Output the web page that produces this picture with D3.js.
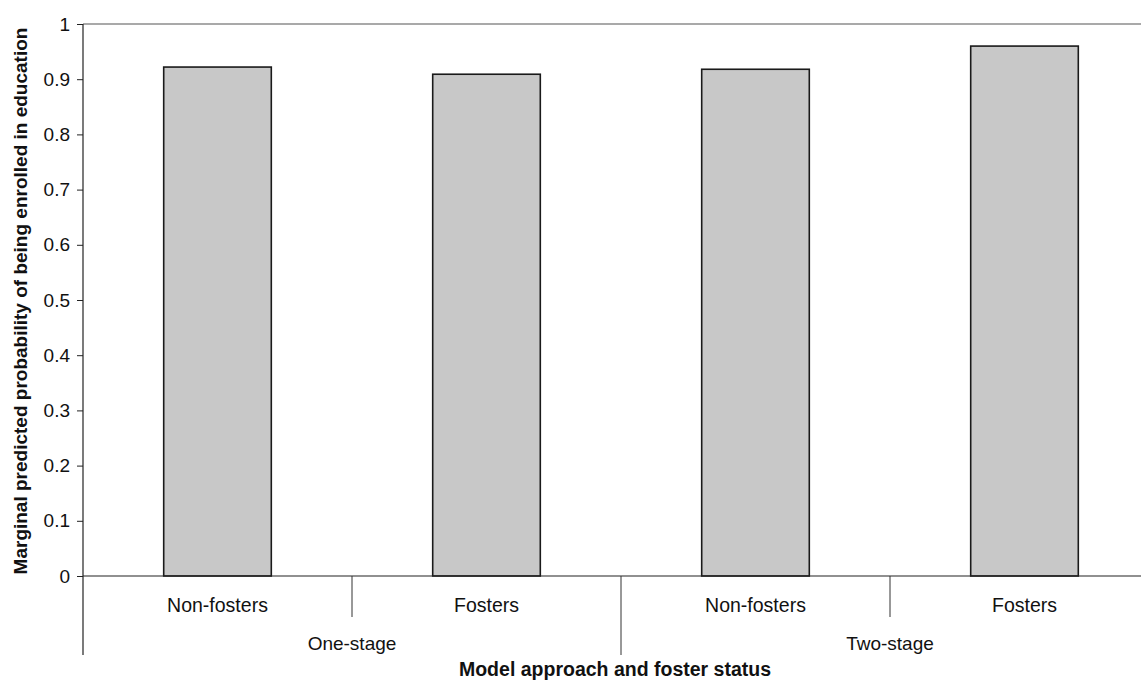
<!DOCTYPE html>
<html>
<head>
<meta charset="utf-8">
<script src="https://cdn.jsdelivr.net/npm/d3@7"></script>
<style>
  html, body { margin: 0; padding: 0; background: #fff; }
  svg { display: block; }
  text { font-family: "Liberation Sans", Arial, sans-serif; fill: #111; }
</style>
</head>
<body>
<svg id="chart" width="1141" height="684"></svg>
<script>
// ---- data ----
const groups = ["One-stage", "Two-stage"];
const categories = ["Non-fosters", "Fosters", "Non-fosters", "Fosters"];
const categoryGroup = ["One-stage", "One-stage", "Two-stage", "Two-stage"];
const values = [0.922, 0.909, 0.918, 0.960];
const yTicks = [0, 0.1, 0.2, 0.3, 0.4, 0.5, 0.6, 0.7, 0.8, 0.9, 1];
const yTickLabels = ["0", "0.1", "0.2", "0.3", "0.4", "0.5", "0.6", "0.7", "0.8", "0.9", "1"];
const yTitle = "Marginal predicted probability of being enrolled in education";
const xTitle = "Model approach and foster status";

(function () {
// ---- layout ----
const svg = d3.select("#chart");
const mLeft = 83, mTop = 24, mBottom = 576;
const step = 269;
const mRight = mLeft + categories.length * step;

const idx = categories.map((d, i) => i);
const x = d3.scaleBand().domain(idx).range([mLeft, mRight]).paddingInner(0.6).paddingOuter(0.3);
const y = d3.scaleLinear().domain([0, 1]).range([mBottom, mTop]);

// bars
svg.append("g").selectAll("rect")
  .data(values)
  .join("rect")
  .attr("x", (d, i) => x(i))
  .attr("y", d => y(d))
  .attr("width", x.bandwidth())
  .attr("height", d => y(0) - y(d))
  .attr("fill", "#c8c8c8")
  .attr("stroke", "#1a1a1a")
  .attr("stroke-width", 1.6);

// top frame line
svg.append("line")
  .attr("x1", mLeft).attr("x2", mRight)
  .attr("y1", y(1)).attr("y2", y(1))
  .attr("stroke", "#555").attr("stroke-width", 1.2);

// y axis
const yAxis = d3.axisLeft(y)
  .tickValues(yTicks)
  .tickFormat((d, i) => yTickLabels[i])
  .tickSize(6)
  .tickPadding(7);
const gy = svg.append("g").attr("transform", `translate(${mLeft},0)`).call(yAxis);
gy.select(".domain").remove();
gy.selectAll(".tick line").attr("stroke", "#222");
gy.selectAll(".tick text").attr("font-size", 19).attr("fill", "#111")
  .style("font-family", "'Liberation Sans', Arial, sans-serif");

// y axis line (extends down into the category area)
svg.append("line")
  .attr("x1", mLeft).attr("x2", mLeft)
  .attr("y1", y(1)).attr("y2", mBottom + 79)
  .attr("stroke", "#222").attr("stroke-width", 1.2);

// x baseline
svg.append("line")
  .attr("x1", mLeft).attr("x2", mRight)
  .attr("y1", y(0)).attr("y2", y(0))
  .attr("stroke", "#222").attr("stroke-width", 1.2);

// category separators (short) and group separators (long)
const gx = svg.append("g");
idx.forEach(i => {
  if (i === 0) return;
  const xb = x(i) - x.step() * x.paddingInner() / 2;
  const isGroupBoundary = categoryGroup[i] !== categoryGroup[i - 1];
  gx.append("line")
    .attr("x1", xb).attr("x2", xb)
    .attr("y1", mBottom).attr("y2", mBottom + (isGroupBoundary ? 79 : 41))
    .attr("stroke", "#333").attr("stroke-width", 1);
});
gx.append("line")
  .attr("x1", mRight).attr("x2", mRight)
  .attr("y1", mBottom).attr("y2", mBottom + 79)
  .attr("stroke", "#333").attr("stroke-width", 1);

// category labels
gx.selectAll("text.cat")
  .data(categories)
  .join("text")
  .attr("class", "cat")
  .attr("x", (d, i) => x(i) + x.bandwidth() / 2)
  .attr("y", mBottom + 36)
  .attr("text-anchor", "middle")
  .attr("font-size", 19.5)
  .text(d => d);

// group labels
groups.forEach(g => {
  const members = idx.filter(i => categoryGroup[i] === g);
  const x0 = x(members[0]) - x.step() * x.paddingInner() / 2;
  const x1 = x(members[members.length - 1]) + x.bandwidth() + x.step() * x.paddingInner() / 2;
  gx.append("text")
    .attr("x", (x0 + x1) / 2)
    .attr("y", mBottom + 74)
    .attr("text-anchor", "middle")
    .attr("font-size", 19)
    .text(g);
});

// axis titles
svg.append("text")
  .attr("x", 615)
  .attr("y", 676)
  .attr("text-anchor", "middle")
  .attr("font-size", 19.5)
  .attr("font-weight", "bold")
  .text(xTitle);

svg.append("text")
  .attr("transform", `translate(27, ${(mTop + mBottom) / 2 + 1}) rotate(-90)`)
  .attr("text-anchor", "middle")
  .attr("font-size", 19)
  .attr("font-weight", "bold")
  .text(yTitle);
})();
</script>
</body>
</html>
